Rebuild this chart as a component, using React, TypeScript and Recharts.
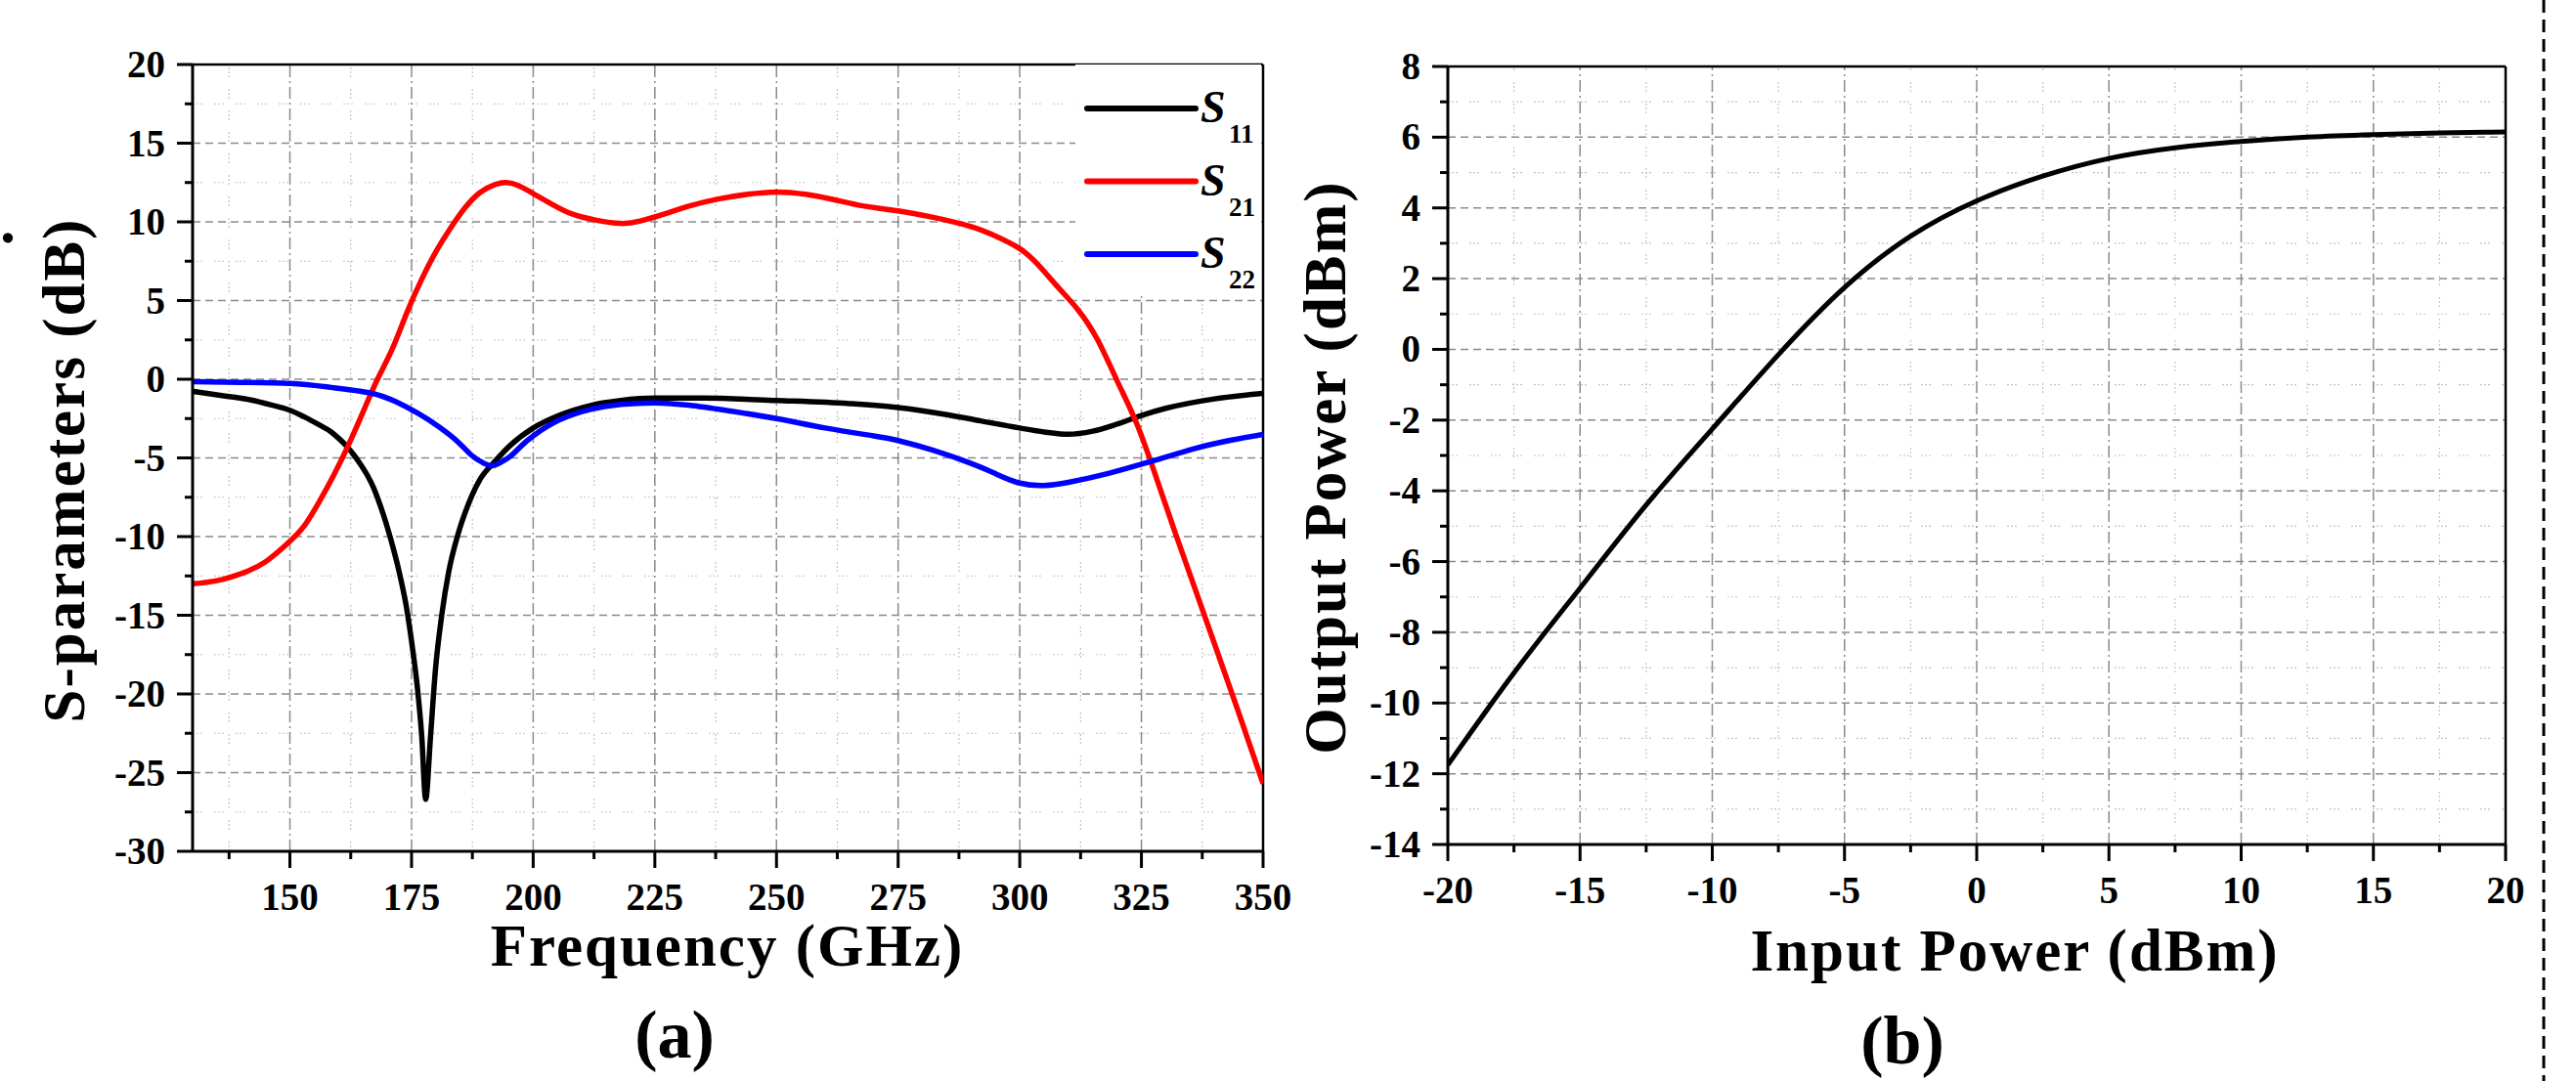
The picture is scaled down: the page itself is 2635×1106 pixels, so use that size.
import React from 'react';
import { LineChart, Line, XAxis, YAxis, ReferenceLine, Legend } from 'recharts';

const SERIF = '"Liberation Serif", "Times New Roman", Times, serif';

// ---- (a) S-parameters vs frequency (GHz, dB) ----
const s11Freq = [130, 134, 138, 142, 146, 150, 153, 156, 158.5, 160, 161.8, 163, 164.5, 166, 167.2, 168.2, 169.2, 170.2, 171.2, 172.5, 173.9, 175.2, 176.2, 177.1, 177.9, 178.9, 179.9, 181.2, 182.6, 184.6, 186.6, 189.2, 191.9, 195.3, 200, 205.3, 212, 218, 225, 235, 250, 265, 275, 285, 292, 300, 305, 310, 315, 320, 325, 330, 340, 350];
const s11Db = [-0.77, -0.95, -1.12, -1.32, -1.62, -1.97, -2.4, -2.9, -3.35, -3.75, -4.3, -4.75, -5.4, -6.15, -6.9, -7.7, -8.6, -9.6, -10.7, -12.3, -14.4, -17.1, -19.6, -22.7, -26.7, -22.7, -18.5, -15.0, -12.3, -9.8, -8.0, -6.3, -5.3, -4.2, -3.1, -2.3, -1.65, -1.35, -1.2, -1.2, -1.35, -1.55, -1.8, -2.25, -2.65, -3.1, -3.35, -3.5, -3.3, -2.85, -2.3, -1.85, -1.25, -0.9];

const s21Freq = [130, 135, 140, 145, 150, 153, 156, 159, 162, 165, 168, 171, 174, 177, 180, 183, 186, 189, 192, 194.5, 197, 200, 204, 208, 213, 218, 222, 227, 232, 238, 244, 250, 256, 262, 268, 275, 282, 290, 295, 300, 304, 308, 312, 316, 320, 324, 328, 332, 336, 340, 345, 350];
const s21Db = [-13.0, -12.8, -12.35, -11.6, -10.3, -9.3, -7.8, -6.1, -4.2, -2.1, 0.0, 1.9, 4.2, 6.3, 8.1, 9.6, 10.9, 11.85, 12.35, 12.5, 12.3, 11.8, 11.1, 10.5, 10.1, 9.9, 10.05, 10.5, 11.0, 11.45, 11.75, 11.9, 11.75, 11.4, 11.0, 10.7, 10.3, 9.7, 9.1, 8.3, 7.2, 5.8, 4.4, 2.5, -0.1, -2.8, -6.2, -9.8, -13.3, -16.8, -21.2, -25.7];

const s22Freq = [130, 140, 150, 158.5, 166.5, 171.9, 176.5, 180.5, 184.6, 187.2, 189.9, 191.6, 193.2, 195.3, 197.5, 200, 205.3, 212, 218, 225, 232, 240, 250, 260, 270, 275, 282, 290, 295, 300, 305, 310, 318, 325, 330, 336, 343, 350];
const s22Db = [-0.15, -0.2, -0.27, -0.52, -0.87, -1.45, -2.2, -3.0, -4.0, -4.8, -5.35, -5.5, -5.3, -4.9, -4.25, -3.6, -2.6, -1.9, -1.6, -1.5, -1.65, -2.0, -2.5, -3.1, -3.6, -3.9, -4.5, -5.35, -6.0, -6.6, -6.75, -6.55, -6.0, -5.4, -4.95, -4.4, -3.9, -3.5];

const freqMajor = [150, 175, 200, 225, 250, 275, 300, 325, 350];
const freqMinor = [137.5, 162.5, 187.5, 212.5, 237.5, 262.5, 287.5, 312.5, 337.5];
const dbMajor = [-30, -25, -20, -15, -10, -5, 0, 5, 10, 15, 20];
const dbMinor = [-27.5, -22.5, -17.5, -12.5, -7.5, -2.5, 2.5, 7.5, 12.5, 17.5];

// ---- (b) output power vs input power (dBm) ----
const pinDbm = [-20, -17.5, -15, -12.5, -10, -7.5, -5, -2.5, 0, 2.5, 5, 7.5, 10, 12.5, 15, 17.5, 20];
const poutDbm = [-11.75, -9.15, -6.75, -4.4, -2.25, -0.15, 1.75, 3.2, 4.2, 4.9, 5.4, 5.7, 5.88, 6.0, 6.07, 6.12, 6.15];

const pinMajor = [-20, -15, -10, -5, 0, 5, 10, 15, 20];
const pinMinor = [-17.5, -12.5, -7.5, -2.5, 2.5, 7.5, 12.5, 17.5];
const poutMajor = [-14, -12, -10, -8, -6, -4, -2, 0, 2, 4, 6, 8];
const poutMinor = [-13, -11, -9, -7, -5, -3, -1, 1, 3, 5, 7];

const legendItems = [
  { sub: '11', color: '#000000' },
  { sub: '21', color: '#ff0000' },
  { sub: '22', color: '#0000ff' },
];

const rows = (xs: number[], ys: number[]) => xs.map((x, i) => ({ x, y: ys[i] }));
const sorted = (a: number[], b: number[]) => [...a, ...b].sort((p, q) => p - q);
const inner = (vals: number[]) => vals.slice(1, -1);

const axisLine = { stroke: '#000', strokeWidth: 3 };
const GRID = '#8a8a8a';
const GRID_MINOR = '#c4c4c4';

const makeXTick = (major: number[]) => (props: any) => {
  const { x, y, payload } = props;
  const isMajor = major.includes(payload.value);
  return (
    <g>
      <line x1={x} y1={y} x2={x} y2={y + (isMajor ? 17 : 8)} stroke="#000" strokeWidth={3} />
      {isMajor && (
        <text x={x} y={y + 60} textAnchor="middle" fontFamily={SERIF} fontWeight={700} fontSize={39} fill="#000">
          {payload.value}
        </text>
      )}
    </g>
  );
};

const makeYTick = (major: number[]) => (props: any) => {
  const { x, y, payload } = props;
  const isMajor = major.includes(payload.value);
  return (
    <g>
      <line x1={x - (isMajor ? 16 : 8)} y1={y} x2={x} y2={y} stroke="#000" strokeWidth={3} />
      {isMajor && (
        <text x={x - 28} y={y + 13} textAnchor="end" fontFamily={SERIF} fontWeight={700} fontSize={39} fill="#000">
          {payload.value}
        </text>
      )}
    </g>
  );
};

function gridLines(xMajor: number[], xMinor: number[], yMajor: number[], yMinor: number[]) {
  return [
    ...xMinor.map((v) => (
      <ReferenceLine key={'xm' + v} x={v} stroke={GRID_MINOR} strokeWidth={1.2} strokeDasharray="2 2 2 2 2 12" />
    )),
    ...yMinor.map((v) => (
      <ReferenceLine key={'ym' + v} y={v} stroke={GRID_MINOR} strokeWidth={1.2} strokeDasharray="2 2 2 2 2 12" />
    )),
    ...xMajor.map((v) => (
      <ReferenceLine key={'xM' + v} x={v} stroke={GRID} strokeWidth={1.5} strokeDasharray="12 4 2 4" />
    )),
    ...yMajor.map((v) => (
      <ReferenceLine key={'yM' + v} y={v} stroke={GRID} strokeWidth={1.5} strokeDasharray="8 5" />
    )),
  ];
}

function SLegend() {
  return (
    <svg width={190} height={234} style={{ display: 'block', background: '#fff' }}>
      {legendItems.map((item, i) => {
        const cy = 45 + i * 74.5;
        return (
          <g key={item.sub}>
            <line x1={12} x2={123} y1={cy} y2={cy} stroke={item.color} strokeWidth={6} strokeLinecap="round" />
            <text x={128} y={cy + 14} fontFamily={SERIF} fontStyle="italic" fontWeight={700} fontSize={46} fill="#000">
              S
            </text>
            <text x={157} y={cy + 35} fontFamily={SERIF} fontWeight={700} fontSize={27} fill="#000">
              {item.sub}
            </text>
          </g>
        );
      })}
    </svg>
  );
}

const titleStyle: React.CSSProperties = {
  position: 'absolute',
  fontFamily: SERIF,
  fontWeight: 700,
  fontSize: 61,
  letterSpacing: 2,
  lineHeight: 1,
  whiteSpace: 'nowrap',
  color: '#000',
};

export default function App() {
  return (
    <div style={{ position: 'relative', width: 2635, height: 1106, background: '#fff', overflow: 'hidden' }}>
      <style>{'body{margin:0}'}</style>

      {/* (a) S-parameters */}
      <div style={{ position: 'absolute', left: 0, top: 0 }}>
        <LineChart width={1340} height={1106} margin={{ top: 66, right: 48, bottom: 175, left: 0 }}>
          <XAxis
            type="number"
            dataKey="x"
            domain={[130, 350]}
            ticks={sorted(freqMajor, freqMinor)}
            interval={0}
            tickSize={0}
            tickMargin={0}
            height={60}
            tickLine={false}
            axisLine={axisLine}
            tick={makeXTick(freqMajor)}
            allowDataOverflow
          />
          <YAxis
            type="number"
            domain={[-30, 20]}
            ticks={sorted(dbMajor, dbMinor)}
            interval={0}
            tickSize={0}
            tickMargin={0}
            width={197}
            tickLine={false}
            axisLine={axisLine}
            tick={makeYTick(dbMajor)}
            allowDataOverflow
          />
          {gridLines(freqMajor.slice(0, -1), freqMinor, inner(dbMajor), dbMinor)}
          <ReferenceLine y={20} stroke="#000" strokeWidth={2.5} />
          <ReferenceLine x={350} stroke="#000" strokeWidth={2.5} />
          <Line data={rows(s11Freq, s11Db)} dataKey="y" name="S11" type="monotone" stroke="#000000" strokeWidth={5.5} dot={false} isAnimationActive={false} />
          <Line data={rows(s21Freq, s21Db)} dataKey="y" name="S21" type="natural" stroke="#ff0000" strokeWidth={5.5} dot={false} isAnimationActive={false} />
          <Line data={rows(s22Freq, s22Db)} dataKey="y" name="S22" type="natural" stroke="#0000ff" strokeWidth={5.5} dot={false} isAnimationActive={false} />
          <Legend
            layout="vertical"
            align="center"
            verticalAlign="middle"
            content={() => <SLegend />}
            wrapperStyle={{ left: 1100, top: 66, width: 190, height: 234, margin: 0, padding: 0 }}
          />
        </LineChart>
      </div>

      {/* (b) Output vs input power */}
      <div style={{ position: 'absolute', left: 1340, top: 0 }}>
        <LineChart width={1295} height={1106} margin={{ top: 68, right: 72, bottom: 182, left: 0 }}>
          <XAxis
            type="number"
            dataKey="x"
            domain={[-20, 20]}
            ticks={sorted(pinMajor, pinMinor)}
            interval={0}
            tickSize={0}
            tickMargin={0}
            height={60}
            tickLine={false}
            axisLine={axisLine}
            tick={makeXTick(pinMajor)}
            allowDataOverflow
          />
          <YAxis
            type="number"
            domain={[-14, 8]}
            ticks={sorted(poutMajor, poutMinor)}
            interval={0}
            tickSize={0}
            tickMargin={0}
            width={141}
            tickLine={false}
            axisLine={axisLine}
            tick={makeYTick(poutMajor)}
            allowDataOverflow
          />
          {gridLines(inner(pinMajor), pinMinor, inner(poutMajor), poutMinor)}
          <ReferenceLine y={8} stroke="#000" strokeWidth={2.5} />
          <ReferenceLine x={20} stroke="#000" strokeWidth={2.5} />
          <Line data={rows(pinDbm, poutDbm)} dataKey="y" name="Pout" type="natural" stroke="#000000" strokeWidth={5} dot={false} isAnimationActive={false} />
        </LineChart>
      </div>

      {/* axis titles and captions */}
      <div style={{ ...titleStyle, left: 65, top: 481, transform: 'translate(-50%, -50%) rotate(-90deg)' }}>S-parameters (dB)</div>
      <div style={{ ...titleStyle, left: 744, top: 937, transform: 'translateX(-50%)' }}>Frequency (GHz)</div>
      <div style={{ ...titleStyle, fontSize: 70, letterSpacing: 0, left: 690, top: 1024, transform: 'translateX(-50%)' }}>(a)</div>

      <div style={{ ...titleStyle, left: 1355, top: 478, transform: 'translate(-50%, -50%) rotate(-90deg)' }}>Output Power (dBm)</div>
      <div style={{ ...titleStyle, left: 2061, top: 942, transform: 'translateX(-50%)' }}>Input Power (dBm)</div>
      <div style={{ ...titleStyle, fontSize: 70, letterSpacing: 0, left: 1946, top: 1030, transform: 'translateX(-50%)' }}>(b)</div>

      <div style={{ ...titleStyle, fontSize: 64, left: 0, top: 195 }}>.</div>

      <svg width={10} height={1106} style={{ position: 'absolute', left: 2597, top: 0 }}>
        <line x1={5} x2={5} y1={0} y2={1106} stroke="#000" strokeWidth={3} strokeDasharray="13 7" />
      </svg>
    </div>
  );
}
